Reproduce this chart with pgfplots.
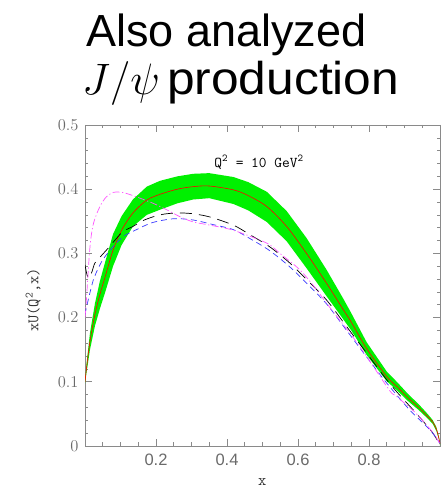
\documentclass[border=0pt]{standalone}
\usepackage{fix-cm}
\usepackage{fontspec}
\setmainfont{Liberation Sans}
\usepackage{pgfplots}
\pgfplotsset{compat=1.18}
\usepgfplotslibrary{fillbetween}
\definecolor{bandgreen}{HTML}{00F000}
\definecolor{pdfblue}{HTML}{3A3AFF}
\definecolor{pdfmag}{HTML}{FF55FF}
\definecolor{axgray}{HTML}{8A8A8A}
\definecolor{lblgray}{HTML}{6A6A6A}
\begin{document}
\begin{tikzpicture}[x=1pt,y=1pt]
\node[anchor=base west, inner sep=0pt] at (86,444) {\fontsize{45}{54}\selectfont Also analyzed};
\node[anchor=base west, inner sep=0pt] at (82,396) {\fontsize{44}{54}\selectfont $J/\psi$};
\node[anchor=base west, inner sep=0pt] at (167,396) {\scalebox{1.08}[1]{\fontsize{46}{54}\selectfont production}};
\begin{axis}[
  at={(85pt,45pt)}, anchor=south west,
  scale only axis, width=355pt, height=321pt,
  xmin=0, xmax=1, ymin=0, ymax=0.5,
  xtick={0,0.2,0.4,0.6,0.8,1},
  xticklabels={,0.2,0.4,0.6,0.8,},
  ytick={0,0.1,0.2,0.3,0.4,0.5},
  yticklabel style={/pgf/number format/fixed},
  minor x tick num=3, minor y tick num=4,
  tick align=inside,
  major tick length=7pt, minor tick length=3.5pt,
  axis line style={axgray, line width=0.8pt},
  tick style={axgray, line width=0.6pt},
  ticklabel style={font=\fontsize{16.5}{18}\selectfont, text=lblgray},
  xticklabel style={yshift=-4pt},
  yticklabel style={xshift=-3pt},
  xlabel={x},
  ylabel={xU(Q\textsuperscript{2},x)},
  label style={font=\ttfamily\fontsize{16}{18}\selectfont, text=black!80},
  xlabel style={at={(axis description cs:0.499,-0.112)}, anchor=center},
  ylabel style={at={(axis description cs:-0.146,0.455)}, anchor=center},
  clip=true,
]
\addplot[name path=upper, draw=none, forget plot] coordinates {
(0.000,0.103) (0.004,0.127) (0.014,0.176) (0.028,0.222) (0.042,0.257) (0.056,0.285)
(0.079,0.330) (0.103,0.358) (0.135,0.384) (0.174,0.404) (0.211,0.413) (0.26,0.420)
(0.305,0.424) (0.35,0.425) (0.418,0.419) (0.46,0.411) (0.512,0.396) (0.568,0.366)
(0.624,0.324) (0.681,0.274) (0.728,0.229) (0.75,0.207) (0.793,0.162) (0.85,0.116)
(0.88,0.099) (0.91,0.081) (0.94,0.065) (0.965,0.050) (0.98,0.040) (0.99,0.029)
(0.997,0.014) (1.0,0.005)};
\addplot[name path=lower, draw=none, forget plot] coordinates {
(0.000,0.097) (0.004,0.113) (0.014,0.150) (0.028,0.187) (0.042,0.214) (0.056,0.238)
(0.079,0.280) (0.103,0.313) (0.135,0.342) (0.174,0.360) (0.211,0.368) (0.26,0.378)
(0.305,0.384) (0.35,0.386) (0.418,0.377) (0.46,0.367) (0.512,0.349) (0.568,0.319)
(0.624,0.277) (0.681,0.233) (0.728,0.197) (0.75,0.180) (0.793,0.142) (0.85,0.101)
(0.88,0.086) (0.91,0.070) (0.94,0.056) (0.965,0.043) (0.98,0.034) (0.99,0.023)
(0.997,0.010) (1.0,0.001)};
\addplot[bandgreen, draw=none] fill between[of=upper and lower];
\addplot[red, line width=0.6pt, smooth] coordinates {
(0.000,0.100) (0.004,0.120) (0.014,0.163) (0.028,0.205) (0.042,0.236) (0.056,0.262)
(0.079,0.305) (0.103,0.336) (0.135,0.363) (0.174,0.383) (0.211,0.392) (0.26,0.400)
(0.305,0.404) (0.35,0.405) (0.418,0.399) (0.46,0.390) (0.512,0.373) (0.568,0.342)
(0.624,0.300) (0.681,0.253) (0.728,0.212) (0.75,0.193) (0.793,0.152) (0.85,0.108)
(0.88,0.092) (0.91,0.075) (0.94,0.060) (0.965,0.046) (0.98,0.037) (0.99,0.026)
(0.997,0.012) (1.0,0.003)};
\addplot[black, line width=0.7pt, dash pattern=on 12pt off 7pt, smooth] coordinates {
(0.000,0.282) (0.006,0.266) (0.012,0.262) (0.02,0.272) (0.028,0.285) (0.047,0.297)
(0.065,0.308) (0.085,0.321) (0.107,0.334) (0.135,0.342) (0.163,0.351) (0.192,0.357)
(0.22,0.361) (0.259,0.363) (0.30,0.362) (0.35,0.357) (0.418,0.344) (0.465,0.329)
(0.521,0.310) (0.577,0.285) (0.625,0.259) (0.681,0.227) (0.737,0.186) (0.793,0.145)
(0.85,0.103) (0.89,0.077) (0.925,0.056) (0.955,0.037) (0.98,0.020) (1.0,0.002)};
\addplot[pdfblue, line width=0.7pt, dash pattern=on 6pt off 4pt, smooth] coordinates {
(0.000,0.205) (0.005,0.218) (0.02,0.252) (0.03,0.268) (0.05,0.290) (0.08,0.311)
(0.11,0.327) (0.145,0.337) (0.19,0.348) (0.25,0.354) (0.305,0.352) (0.36,0.345)
(0.418,0.337) (0.465,0.323) (0.521,0.304) (0.577,0.279) (0.625,0.253) (0.681,0.221)
(0.737,0.180) (0.793,0.139) (0.85,0.098) (0.915,0.056) (0.972,0.025) (1.0,0.004)};
\addplot[pdfmag, line width=0.7pt, dash pattern=on 7pt off 2.5pt on 1.2pt off 2.5pt, smooth] coordinates {
(0.000,0.200) (0.004,0.228) (0.014,0.310) (0.024,0.347) (0.042,0.373) (0.06,0.388)
(0.08,0.395) (0.105,0.395) (0.13,0.391) (0.155,0.386) (0.192,0.378) (0.23,0.368)
(0.268,0.357) (0.305,0.349) (0.352,0.344) (0.418,0.336) (0.512,0.316) (0.549,0.300)
(0.606,0.274) (0.653,0.243) (0.681,0.222) (0.761,0.165) (0.812,0.124) (0.86,0.085)
(0.878,0.077) (0.934,0.050) (0.981,0.020) (1.0,0.003)};
\node[font=\ttfamily\fontsize{15}{16}\selectfont] at (axis cs:0.49,0.442) {Q\textsuperscript{2} = 10 GeV\textsuperscript{2}};
\end{axis}
\pgfresetboundingbox
\path[use as bounding box] (0,0) rectangle (441,491);
\end{tikzpicture}
\end{document}
